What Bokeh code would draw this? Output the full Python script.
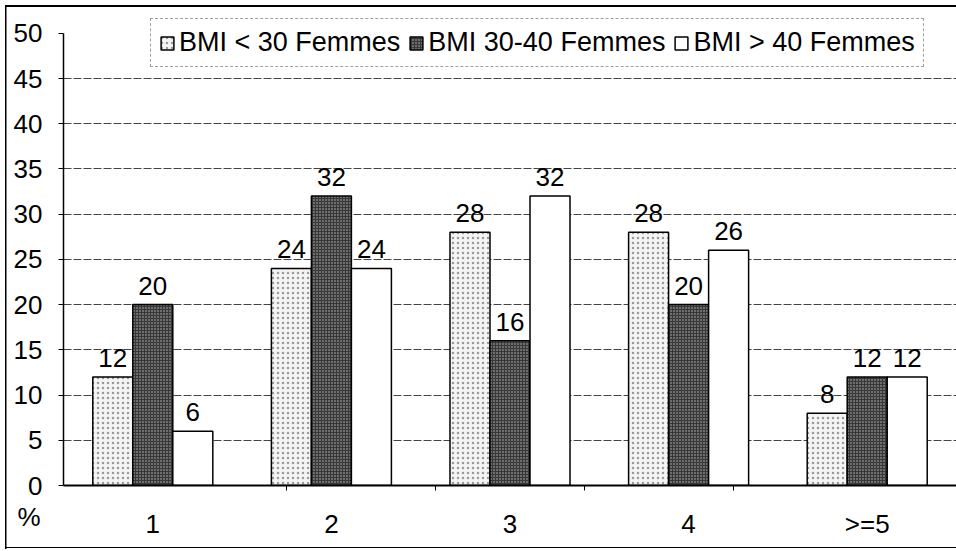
from bokeh.plotting import figure
from bokeh.models import (FactorRange, ColumnDataSource, Legend, LegendItem, FixedTicker,
                          Range1d, CategoricalAxis, Title)
from bokeh.transform import dodge
from bokeh.core.properties import value
from bokeh.embed import file_html
from bokeh.resources import INLINE

categories = ["1", "2", "3", "4", ">=5"]
series_names = ["BMI < 30 Femmes", "BMI 30-40 Femmes", "BMI > 40 Femmes"]
bmi_lt30 = [12, 24, 28, 28, 8]
bmi_30_40 = [20, 32, 16, 20, 12]
bmi_gt40 = [6, 24, 32, 26, 12]
y_ticks = [0, 5, 10, 15, 20, 25, 30, 35, 40, 45, 50]
grid_ticks = [5, 10, 15, 20, 25, 30, 35, 40, 45]
y_label = "%"

FONT = "Liberation Sans"
FS = "26px"

p = figure(x_range=FactorRange(*categories, range_padding=0), y_range=Range1d(0, 52.3),
           width=956, height=551, output_backend="svg", toolbar_location=None,
           min_border_left=63, min_border_right=0, min_border_top=12, min_border_bottom=66)
p.outline_line_color = None
p.background_fill_color = "white"
p.border_fill_color = "white"
p.border_fill_alpha = 0
p.styles = {
    "background": (
        "linear-gradient(#000,#000) 5px 5px / 951px 2px no-repeat,"
        "linear-gradient(#000,#000) 5px 5px / 1.5px 544px no-repeat,"
        "linear-gradient(#000,#000) 5px 547px / 951px 1px no-repeat,"
        "#ffffff"
    )
}

p.xgrid.grid_line_color = None
p.ygrid.ticker = FixedTicker(ticks=grid_ticks)
p.ygrid.grid_line_color = "#444444"
p.ygrid.grid_line_dash = "8 2"
p.ygrid.grid_line_width = 1

p.yaxis.ticker = FixedTicker(ticks=y_ticks)
p.yaxis.bounds = (0, 50)
p.yaxis.minor_tick_line_color = None
p.yaxis.major_tick_out = 5
p.yaxis.major_tick_in = 0
p.yaxis.major_label_standoff = 16
p.yaxis.axis_line_color = "black"
p.yaxis.axis_line_width = 1.5
p.yaxis.major_label_text_font = FONT
p.yaxis.major_label_text_font_size = FS
p.yaxis.major_label_text_color = "black"

xa = p.xaxis[0]
xa.major_tick_line_color = None
xa.major_tick_out = 0
xa.axis_line_color = None
xa.major_label_text_font = FONT
xa.major_label_text_font_size = FS
xa.major_label_text_color = "black"

# boundary ticks between categories, on a shifted categorical twin range
edge_names = ["e1", "e2", "e3", "e4"]
p.extra_x_ranges = {"edges": FactorRange(*edge_names, range_padding=1, range_padding_units="absolute")}
edge_axis = CategoricalAxis(x_range_name="edges",
                            axis_line_color="black", axis_line_width=2,
                            major_tick_line_color="black", major_tick_out=5, major_tick_in=0,
                            major_label_standoff=0, major_label_text_font_size="0px",
                            major_label_text_color=None)

# "%" unit label in the lower-left corner
TITLE_STANDOFF = 22
pct_title = Title(text=y_label, align="left", vertical_align="top", offset=-46,
                  standoff=TITLE_STANDOFF, text_font=FONT, text_font_size=FS,
                  text_font_style="normal", text_color="black")
p.below = [edge_axis, pct_title, xa]
xa.major_label_standoff = -36

src = ColumnDataSource(dict(cat=categories, a=bmi_lt30, b=bmi_30_40, c=bmi_gt40,
                            la=[str(v) for v in bmi_lt30],
                            lb=[str(v) for v in bmi_30_40],
                            lc=[str(v) for v in bmi_gt40]))

bw = 0.224
styles = [
    dict(fill_color="#f4f4f4", hatch_pattern="dot", hatch_color="#9a9a9a", hatch_scale=5, hatch_weight=1),
    dict(fill_color="#383838", hatch_pattern="dot", hatch_color="#bdbdbd", hatch_scale=3, hatch_weight=1),
    dict(fill_color="white"),
]
renderers = []
for i, (col, lab) in enumerate([("a", "la"), ("b", "lb"), ("c", "lc")]):
    off = (i - 1) * bw
    r = p.vbar(x=dodge("cat", off, range=p.x_range), top=col, width=bw, source=src,
               line_color="black", line_width=1.5, **styles[i])
    renderers.append(r)
    p.text(x=dodge("cat", off, range=p.x_range), y=col, text=lab, source=src,
           text_align="center", text_baseline="alphabetic", y_offset=-19,
           text_font=value(FONT), text_font_size=FS, text_color="black")

legend = Legend(items=[LegendItem(label=series_names[i], renderers=[renderers[i]]) for i in range(3)],
                location=(87, 418), orientation="horizontal")
legend.border_line_color = "#444444"
legend.border_line_dash = "2 2"
legend.border_line_width = 1
legend.background_fill_color = "white"
legend.background_fill_alpha = 1
legend.label_text_font = FONT
legend.label_text_font_size = "27px"
legend.label_text_color = "black"
legend.glyph_width = 16
legend.glyph_height = 16
legend.label_standoff = 4
legend.spacing = 8
legend.padding = 8
legend.margin = 0
p.add_layout(legend, "center")

open("out.html", "w").write(file_html(p, INLINE))
